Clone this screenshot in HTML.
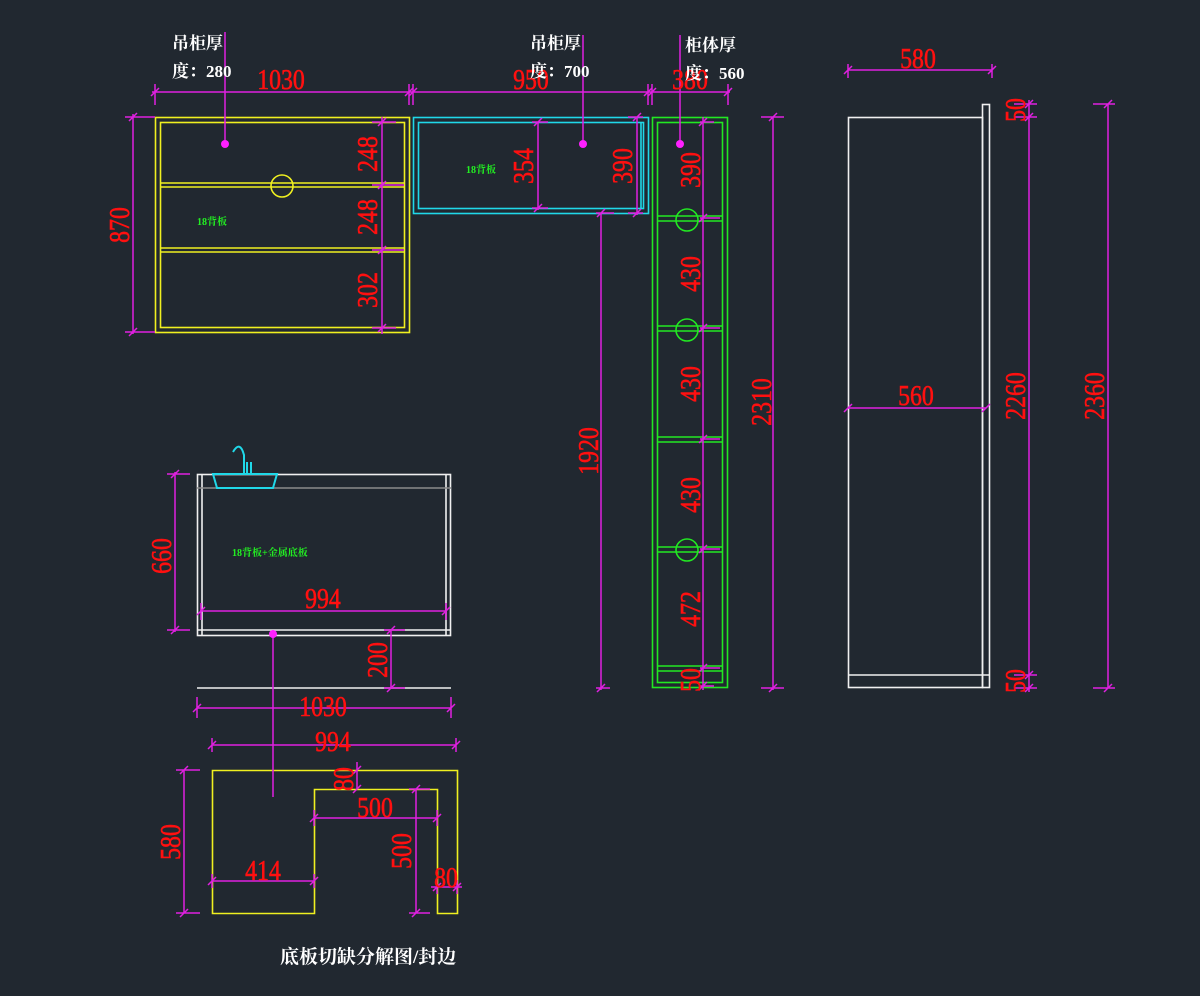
<!DOCTYPE html>
<html><head><meta charset="utf-8"><style>
html,body{margin:0;padding:0;background:#212830;}
svg{display:block}
.r{fill:#ff1010;stroke:#ff1010;stroke-width:0.6;font-family:"Liberation Serif","Noto Serif CJK SC",serif;font-size:28px;}
.w{fill:#fff;font-family:"Liberation Serif","Noto Serif CJK SC",serif;font-size:17px;font-weight:bold;}
.g{fill:#22ee22;font-family:"Liberation Serif","Noto Serif CJK SC",serif;font-size:10px;font-weight:bold;}
.m{stroke:#e020e0;stroke-width:1.5;fill:none}
</style></head><body>
<svg width="1200" height="996" viewBox="0 0 1200 996" xmlns="http://www.w3.org/2000/svg">
<rect width="1200" height="996" fill="#212830"/>

<g stroke="#f0f020" stroke-width="1.6" fill="none">
<rect x="155.5" y="117.5" width="254" height="215"/>
<rect x="160.5" y="122.5" width="244" height="205"/>
<line x1="160" y1="183" x2="405" y2="183"/><line x1="160" y1="187" x2="405" y2="187"/>
<line x1="160" y1="248" x2="405" y2="248"/><line x1="160" y1="252" x2="405" y2="252"/>
<circle cx="282" cy="186" r="11"/>
</g>
<text class="g" x="197" y="225">18背板</text>

<g stroke="#20d8e8" stroke-width="1.6" fill="none">
<rect x="413.5" y="117.5" width="235" height="96"/>
<rect x="418.5" y="122.5" width="225" height="86"/>
<line x1="641" y1="122" x2="641" y2="209"/>
</g>
<text class="g" x="466" y="173">18背板</text>

<g stroke="#22e822" stroke-width="1.6" fill="none">
<rect x="652.5" y="117.5" width="75" height="570"/>
<rect x="657.5" y="122.5" width="65" height="560"/>
<line x1="657" y1="216" x2="723" y2="216"/><line x1="657" y1="221" x2="723" y2="221"/>
<line x1="657" y1="326" x2="723" y2="326"/><line x1="657" y1="331" x2="723" y2="331"/>
<line x1="657" y1="437" x2="723" y2="437"/><line x1="657" y1="442" x2="723" y2="442"/>
<line x1="657" y1="547" x2="723" y2="547"/><line x1="657" y1="552" x2="723" y2="552"/>
<line x1="657" y1="666" x2="723" y2="666"/><line x1="657" y1="671" x2="723" y2="671"/>
<ellipse cx="687" cy="220" rx="11" ry="11"/>
<ellipse cx="687" cy="330" rx="11" ry="11"/>
<ellipse cx="687" cy="550" rx="11" ry="11"/>
</g>

<g stroke="#f0f0f0" stroke-width="1.6" fill="none">
<rect x="848.5" y="117.5" width="134" height="570"/>
<rect x="982.5" y="104.5" width="7" height="583"/>
<line x1="848" y1="675" x2="990" y2="675"/>
</g>

<g stroke="#f0f0f0" stroke-width="1.6" fill="none">
<rect x="197.5" y="474.5" width="253" height="161"/>
<line x1="202" y1="474" x2="202" y2="635"/><line x1="446" y1="474" x2="446" y2="635"/>
<line x1="197" y1="630" x2="451" y2="630"/>
<line x1="197" y1="688" x2="451" y2="688"/>
</g>
<line x1="197" y1="488" x2="451" y2="488" stroke="#8a8a8a" stroke-width="1.5"/>
<g stroke="#20d8e8" stroke-width="2" fill="none">
<path d="M213 474 L277 474 L273 488 L217 488 Z"/>
<path d="M233 452 Q240 440 244 455 L244 474"/>
<path d="M247 462 L247 474 M251 462 L251 474"/>
</g>
<text class="g" x="232" y="556">18背板+金属底板</text>

<polygon points="212.5,770.5 457.5,770.5 457.5,913.5 437.5,913.5 437.5,789.5 314.5,789.5 314.5,913.5 212.5,913.5" fill="none" stroke="#f0f020" stroke-width="1.6"/>

<g class="m">
<line x1="152" y1="92" x2="730" y2="92"/>
<path d="M155 84V105M409 84V105M413 84V105M648 84V105M652 84V105M728 84V105"/>
<path d="M151 96l8-8M405 96l8-8M409 96l8-8M644 96l8-8M648 96l8-8M724 96l8-8"/>
<line x1="225" y1="32" x2="225" y2="144"/>
<line x1="583" y1="35" x2="583" y2="144"/>
<line x1="680" y1="35" x2="680" y2="144"/>
<line x1="133" y1="114" x2="133" y2="334"/>
<path d="M125 117H155M125 332H155M129 121l8-8M129 336l8-8"/>
<line x1="382" y1="117" x2="382" y2="334"/>
<path d="M372 122H396M372 185H404M372 250H404M372 328H396"/>
<path d="M378 126l8-8M378 189l8-8M378 254l8-8M378 332l8-8"/>
<line x1="538" y1="122" x2="538" y2="210"/>
<path d="M532 122H548M532 208H548M534 126l8-8M534 212l8-8"/>
<line x1="637" y1="117" x2="637" y2="215"/>
<path d="M628 117H643M628 213H643M633 121l8-8M633 217l8-8"/>
<line x1="601" y1="213" x2="601" y2="690"/>
<path d="M596 213H614M596 688H610M597 217l8-8M597 692l8-8"/>
<line x1="703" y1="117" x2="703" y2="690"/>
<path d="M700 122H714M700 218H720M700 328H720M700 439H720M700 549H720M700 668H720M700 686H714"/>
<path d="M699 126l8-8M699 222l8-8M699 332l8-8M699 443l8-8M699 553l8-8M699 672l8-8M699 690l8-8"/>
<line x1="773" y1="117" x2="773" y2="690"/>
<path d="M761 117H784M761 688H784M769 121l8-8M769 692l8-8"/>
<line x1="848" y1="70" x2="992" y2="70"/>
<path d="M848 64V78M992 64V78M844 74l8-8M988 74l8-8"/>
<line x1="848" y1="408" x2="986" y2="408"/>
<path d="M844 412l8-8M982 412l8-8"/>
<line x1="1029" y1="100" x2="1029" y2="692"/>
<path d="M1014 104H1037M1014 117H1037M1014 675H1037M1014 688H1037"/>
<path d="M1025 108l8-8M1025 121l8-8M1025 679l8-8M1025 692l8-8"/>
<line x1="1108" y1="104" x2="1108" y2="688"/>
<path d="M1093 104H1115M1093 688H1115M1104 108l8-8M1104 692l8-8"/>
<line x1="175" y1="472" x2="175" y2="632"/>
<path d="M167 474H190M167 630H190M171 478l8-8M171 634l8-8"/>
<line x1="200" y1="611" x2="447" y2="611"/>
<path d="M201 603V620M446 603V620M197 615l8-8M442 615l8-8"/>
<line x1="273" y1="632" x2="273" y2="797"/>
<line x1="391" y1="630" x2="391" y2="688"/>
<path d="M384 630H405M384 688H405M387 634l8-8M387 692l8-8"/>
<line x1="197" y1="708" x2="451" y2="708"/>
<path d="M197 697V718M451 697V718M193 712l8-8M447 712l8-8"/>
<line x1="212" y1="745" x2="456" y2="745"/>
<path d="M212 738V752M456 738V752M208 749l8-8M452 749l8-8"/>
<line x1="184" y1="770" x2="184" y2="913"/>
<path d="M176 770H200M176 913H200M180 774l8-8M180 917l8-8"/>
<line x1="357" y1="762" x2="357" y2="789"/>
<path d="M353 774l8-8M353 793l8-8"/>
<line x1="314" y1="818" x2="437" y2="818"/>
<path d="M314 810V826M437 810V826M310 822l8-8M433 822l8-8"/>
<line x1="416" y1="789" x2="416" y2="913"/>
<path d="M409 789H430M409 913H430M412 793l8-8M412 917l8-8"/>
<line x1="212" y1="881" x2="314" y2="881"/>
<path d="M212 874V888M314 874V888M208 885l8-8M310 885l8-8"/>
<line x1="431" y1="887" x2="462" y2="887"/>
<path d="M437 880V894M457 880V894M433 891l8-8M453 891l8-8"/>
</g>
<g fill="#ff20ff">
<circle cx="225" cy="144" r="4"/><circle cx="583" cy="144" r="4"/><circle cx="680" cy="144" r="4"/><circle cx="273" cy="634" r="4"/>
</g>

<g class="r">
<text x="281" y="89" text-anchor="middle" transform="translate(281 0) scale(0.85 1) translate(-281 0)">1030</text>
<text x="531" y="89" text-anchor="middle" transform="translate(531 0) scale(0.85 1) translate(-531 0)">950</text>
<text x="690" y="89" text-anchor="middle" transform="translate(690 0) scale(0.85 1) translate(-690 0)">380</text>
<text x="918" y="68" text-anchor="middle" transform="translate(918 0) scale(0.85 1) translate(-918 0)">580</text>
<text x="916" y="405" text-anchor="middle" transform="translate(916 0) scale(0.85 1) translate(-916 0)">560</text>
<text x="323" y="608" text-anchor="middle" transform="translate(323 0) scale(0.85 1) translate(-323 0)">994</text>
<text x="323" y="716" text-anchor="middle" transform="translate(323 0) scale(0.85 1) translate(-323 0)">1030</text>
<text x="333" y="751" text-anchor="middle" transform="translate(333 0) scale(0.85 1) translate(-333 0)">994</text>
<text x="375" y="817" text-anchor="middle" transform="translate(375 0) scale(0.85 1) translate(-375 0)">500</text>
<text x="263" y="880" text-anchor="middle" transform="translate(263 0) scale(0.85 1) translate(-263 0)">414</text>
<text x="446" y="887" text-anchor="middle" transform="translate(446 0) scale(0.85 1) translate(-446 0)">80</text>
</g>
<g class="r">
<text transform="translate(129 225) rotate(-90) scale(0.85 1)" text-anchor="middle">870</text>
<text transform="translate(377 154) rotate(-90) scale(0.85 1)" text-anchor="middle">248</text>
<text transform="translate(377 217) rotate(-90) scale(0.85 1)" text-anchor="middle">248</text>
<text transform="translate(377 290) rotate(-90) scale(0.85 1)" text-anchor="middle">302</text>
<text transform="translate(533 166) rotate(-90) scale(0.85 1)" text-anchor="middle">354</text>
<text transform="translate(632 166) rotate(-90) scale(0.85 1)" text-anchor="middle">390</text>
<text transform="translate(598 451) rotate(-90) scale(0.85 1)" text-anchor="middle">1920</text>
<text transform="translate(700 170) rotate(-90) scale(0.85 1)" text-anchor="middle">390</text>
<text transform="translate(700 274) rotate(-90) scale(0.85 1)" text-anchor="middle">430</text>
<text transform="translate(700 384) rotate(-90) scale(0.85 1)" text-anchor="middle">430</text>
<text transform="translate(700 495) rotate(-90) scale(0.85 1)" text-anchor="middle">430</text>
<text transform="translate(700 609) rotate(-90) scale(0.85 1)" text-anchor="middle">472</text>
<text transform="translate(700 680) rotate(-90) scale(0.85 1)" text-anchor="middle">50</text>
<text transform="translate(771 402) rotate(-90) scale(0.85 1)" text-anchor="middle">2310</text>
<text transform="translate(1025 110) rotate(-90) scale(0.85 1)" text-anchor="middle">50</text>
<text transform="translate(1025 396) rotate(-90) scale(0.85 1)" text-anchor="middle">2260</text>
<text transform="translate(1025 681) rotate(-90) scale(0.85 1)" text-anchor="middle">50</text>
<text transform="translate(1104 396) rotate(-90) scale(0.85 1)" text-anchor="middle">2360</text>
<text transform="translate(171 556) rotate(-90) scale(0.85 1)" text-anchor="middle">660</text>
<text transform="translate(387 660) rotate(-90) scale(0.85 1)" text-anchor="middle">200</text>
<text transform="translate(180 842) rotate(-90) scale(0.85 1)" text-anchor="middle">580</text>
<text transform="translate(353 779) rotate(-90) scale(0.85 1)" text-anchor="middle">80</text>
<text transform="translate(411 851) rotate(-90) scale(0.85 1)" text-anchor="middle">500</text>
</g>

<g class="w">
<text x="172" y="49">吊柜厚</text>
<text x="172" y="77">度：280</text>
<text x="530" y="49">吊柜厚</text>
<text x="530" y="77">度：700</text>
<text x="685" y="51">柜体厚</text>
<text x="685" y="79">度：560</text>
<text x="280" y="963" style="font-size:19px">底板切缺分解图/封边</text>
</g>
</svg>
</body></html>
